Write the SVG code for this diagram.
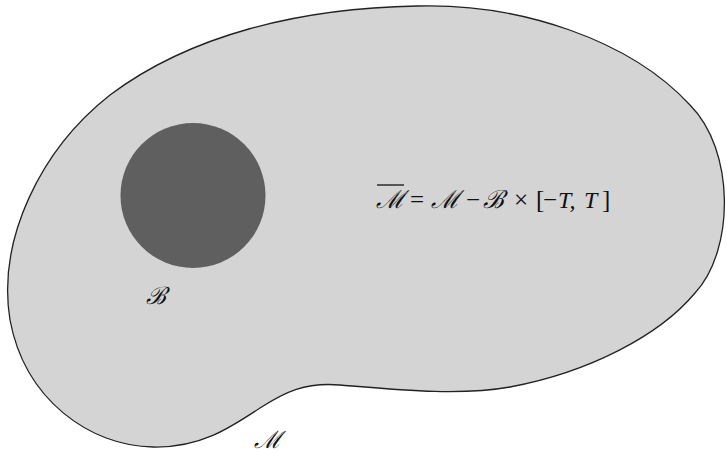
<svg xmlns="http://www.w3.org/2000/svg" width="727" height="453" viewBox="0 0 727 453">
<style>
.math{font-family:"DejaVu Serif","Liberation Serif",serif;fill:#111;font-style:italic;}
.rm{font-family:"Liberation Serif",serif;fill:#111;font-size:25px;}
.it{font-family:"Liberation Serif",serif;font-style:italic;fill:#111;font-size:24px;}
</style>
<rect width="727" height="453" fill="#ffffff"/>
<g id="manifold">
<path d="M 417 6 C 520 3, 630 40, 690 105 C 735 150, 735 250, 695 293 C 660 335, 590 372, 510 387 C 460 396, 400 390, 340 385 C 305 382, 285 392, 260 408 C 230 428, 200 448, 153 447 C 90 446, 25 400, 10 320 C -3 240, 40 150, 110 95 C 190 35, 300 8, 417 6 Z" fill="#d4d4d4" stroke="#222" stroke-width="1.3"/>
</g>
<g id="ball">
<circle cx="193" cy="195.5" r="72.5" fill="#5f5f5f"/>
</g>
<g id="labels">
<text class="math" x="146" y="304" font-size="24">ℬ</text>
<text class="math" x="254" y="448" font-size="24">ℳ</text>
</g>
<g id="formula">
<line x1="377" y1="185" x2="404" y2="185" stroke="#111" stroke-width="1.3"/>
<text class="math" x="376" y="208" font-size="25">ℳ</text>
<text class="rm" x="410" y="208">=</text>
<text class="math" x="431" y="208" font-size="25">ℳ</text>
<text class="rm" x="466" y="208">−</text>
<text class="math" x="483" y="208" font-size="25">ℬ</text>
<text class="rm" x="514" y="208">×</text>
<text class="rm" x="536" y="208">[</text>
<text class="rm" x="543" y="208">−</text>
<text class="it" x="558" y="208">T,</text>
<text class="it" x="584" y="208">T</text>
<text class="rm" x="602" y="208">]</text>
</g>
</svg>
